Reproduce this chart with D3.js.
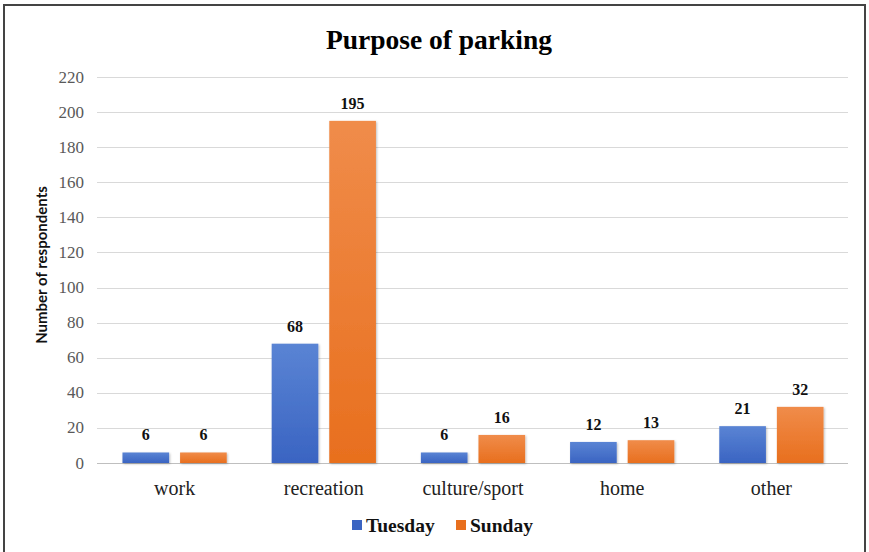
<!DOCTYPE html>
<html><head><meta charset="utf-8">
<script src="https://cdn.jsdelivr.net/npm/d3@7/dist/d3.min.js"></script>
<style>body{margin:0;background:#fff}svg{display:block}</style>
</head><body>
<script>
const categories = ["work","recreation","culture/sport","home","other"];
const seriesNames = ["Tuesday","Sunday"];
const tuesday = [6,68,6,12,21];
const sunday = [6,195,16,13,32];
const yTicks = [0,20,40,60,80,100,120,140,160,180,200,220];
const colors = {Tuesday:["#5a84d4","#3a64c2"], Sunday:["#f08c4a","#e86f1e"]};

const W=869,H=552;
const svg=d3.select("body").append("svg").attr("width",W).attr("height",H);
svg.append("rect").attr("x",4).attr("y",5).attr("width",861).attr("height",560)
  .attr("fill","#fff").attr("stroke","#444").attr("stroke-width",2);

const defs=svg.append("defs");
seriesNames.forEach(s=>{
  const g=defs.append("linearGradient").attr("id","g"+s).attr("x1",0).attr("y1",0).attr("x2",0).attr("y2",1);
  g.append("stop").attr("offset","0%").attr("stop-color",colors[s][0]);
  g.append("stop").attr("offset","100%").attr("stop-color",colors[s][1]);
});
const f=defs.append("filter").attr("id","sh").attr("x","-20%").attr("y","-20%").attr("width","140%").attr("height","140%");
f.append("feDropShadow").attr("dx",1).attr("dy",1).attr("stdDeviation",1.2).attr("flood-color","#000").attr("flood-opacity",0.25);

const x=d3.scaleBand().domain(categories).range([100,846]);
const xs=d3.scaleBand().domain(seriesNames).range([0,x.bandwidth()]).paddingInner(0.19).paddingOuter(0.39);
const y=d3.scaleLinear().domain([0,220]).range([463,77]);

svg.append("text").attr("x",439).attr("y",49).attr("text-anchor","middle")
  .attr("font-family","Liberation Serif").attr("font-weight","bold").attr("font-size",27.5).text("Purpose of parking");

const gy=svg.append("g");
gy.selectAll("line").data(yTicks).join("line")
  .attr("x1",97).attr("x2",848).attr("y1",d=>Math.round(y(d))+0.5).attr("y2",d=>Math.round(y(d))+0.5)
  .attr("stroke",d=>d===0?"#bfbfbf":"#d9d9d9").attr("stroke-width",1);
gy.selectAll("text").data(yTicks).join("text")
  .attr("x",84).attr("y",d=>y(d)+5.5).attr("text-anchor","end")
  .attr("font-family","Liberation Serif").attr("font-size",17).attr("fill","#595959").text(d=>d);

svg.append("text").attr("transform","translate(47,265) rotate(-90)").attr("text-anchor","middle")
  .attr("font-family","Lato").attr("font-weight","bold").attr("font-size",15).attr("fill","#111").text("Number of respondents");

const data=categories.map((c,i)=>({c, vals:[{s:"Tuesday",v:tuesday[i]},{s:"Sunday",v:sunday[i]}]}));
const grp=svg.selectAll("g.cat").data(data).join("g").attr("class","cat").attr("transform",d=>`translate(${x(d.c)},0)`);
grp.selectAll("rect").data(d=>d.vals).join("rect")
  .attr("x",d=>xs(d.s)).attr("width",xs.bandwidth())
  .attr("y",d=>y(d.v)).attr("height",d=>y(0)-y(d.v))
  .attr("fill",d=>`url(#g${d.s})`).attr("filter","url(#sh)");
grp.selectAll("text").data(d=>d.vals).join("text")
  .attr("x",d=>xs(d.s)+xs.bandwidth()/2).attr("y",d=>y(d.v)-12).attr("text-anchor","middle")
  .attr("font-family","Liberation Serif").attr("font-weight","bold").attr("font-size",16).attr("fill","#111").text(d=>d.v);

svg.selectAll("text.xl").data(categories).join("text").attr("class","xl")
  .attr("x",d=>x(d)+x.bandwidth()/2).attr("y",495).attr("text-anchor","middle")
  .attr("font-family","Liberation Serif").attr("font-size",20).attr("fill","#222").text(d=>d);

const lg=svg.append("g");
const lx=[352,456];
seriesNames.forEach((s,i)=>{
  lg.append("rect").attr("x",lx[i]).attr("y",520).attr("width",10).attr("height",10).attr("fill",colors[s][1]);
  lg.append("text").attr("x",lx[i]+14).attr("y",532).attr("font-family","Liberation Serif").attr("font-weight","bold")
    .attr("font-size",19.5).attr("fill","#111").text(s);
});
</script>
</body></html>
